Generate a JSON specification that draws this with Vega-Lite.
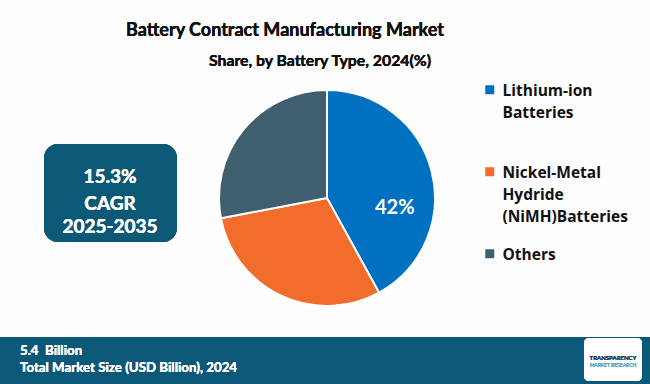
{
  "$schema": "https://vega.github.io/schema/vega-lite/v6.json",
  "width": 650,
  "height": 384,
  "padding": 0,
  "autosize": "none",
  "background": "#FDFDFD",
  "config": {
    "view": {"stroke": null},
    "style": {"guide-label": {"lineHeight": 22, "dy": -6}}
  },
  "data": {
    "values": [
      {"type": "Lithium-ion Batteries", "value": 42, "order": 1, "label": "42%"},
      {"type": "Nickel-Metal Hydride (NiMH)Batteries", "value": 30, "order": 2, "label": ""},
      {"type": "Others", "value": 28, "order": 3, "label": ""}
    ]
  },
  "layer": [
    {
      "mark": {"type": "arc", "x": 327, "y": 198, "radius": 108, "stroke": "white", "strokeWidth": 2},
      "encoding": {
        "theta": {"field": "value", "type": "quantitative", "stack": true},
        "order": {"field": "order", "type": "quantitative"},
        "color": {
          "field": "type",
          "type": "nominal",
          "sort": ["Lithium-ion Batteries", "Nickel-Metal Hydride (NiMH)Batteries", "Others"],
          "scale": {
            "domain": ["Lithium-ion Batteries", "Nickel-Metal Hydride (NiMH)Batteries", "Others"],
            "range": ["#0070C0", "#F26C2C", "#3F5F6F"]
          },
          "legend": {
            "orient": "none",
            "legendX": 482,
            "legendY": 82,
            "title": null,
            "padding": 0,
            "symbolType": "square",
            "symbolSize": 81,
            "symbolStrokeWidth": 0,
            "labelFont": "Open Sans",
            "labelFontSize": 15.5,
            "labelFontWeight": "bold",
            "labelColor": "#111111",
            "labelLimit": 200,
            "labelOffset": 5,
            "labelBaseline": "top",
            "rowPadding": 20,
            "labelExpr": "datum.label == 'Lithium-ion Batteries' ? ['Lithium-ion', 'Batteries', ''] : datum.label == 'Others' ? 'Others' : ['Nickel-Metal', 'Hydride', '(NiMH)Batteries']"
          }
        }
      }
    },
    {
      "mark": {"type": "text", "x": 327, "y": 198, "radius": 70, "dy": 27, "font": "Lato", "fontSize": 20, "fontWeight": "bold", "color": "white"},
      "encoding": {
        "theta": {"field": "value", "type": "quantitative", "stack": true},
        "order": {"field": "order", "type": "quantitative"},
        "text": {"field": "label"}
      }
    },
    {
      "mark": {"type": "text", "x": 285, "y": 31, "text": "Battery Contract Manufacturing Market", "font": "Lato", "fontSize": 18, "fontWeight": "bold", "color": "#111111", "align": "center", "baseline": "middle"},
      "encoding": {}
    },
    {
      "mark": {"type": "text", "x": 320, "y": 61, "text": "Share, by Battery Type, 2024(%)", "font": "Lato", "fontSize": 15.8, "fontWeight": "bold", "color": "#111111", "align": "center", "baseline": "middle"},
      "encoding": {}
    },
    {
      "mark": {"type": "rect", "x": 44, "x2": 177, "y": 144, "y2": 242, "cornerRadius": 14, "color": "#0C5877"},
      "encoding": {}
    },
    {
      "mark": {"type": "text", "x": 110, "y": 177, "text": "15.3%", "font": "Lato", "fontSize": 19, "fontWeight": "bold", "color": "white", "align": "center", "baseline": "middle"},
      "encoding": {}
    },
    {
      "mark": {"type": "text", "x": 110, "y": 204, "text": "CAGR", "font": "Lato", "fontSize": 19, "fontWeight": "bold", "color": "white", "align": "center", "baseline": "middle"},
      "encoding": {}
    },
    {
      "mark": {"type": "text", "x": 110, "y": 227, "text": "2025-2035", "font": "Lato", "fontSize": 19, "fontWeight": "bold", "color": "white", "align": "center", "baseline": "middle"},
      "encoding": {}
    },
    {
      "mark": {"type": "rect", "x": 0, "x2": 650, "y": 337, "y2": 384, "color": "#0B5878"},
      "encoding": {}
    },
    {
      "mark": {"type": "text", "x": 20, "y": 351, "text": "5.4\u00a0\u00a0Billion", "font": "Lato", "fontSize": 13.3, "fontWeight": "bold", "color": "white", "align": "left", "baseline": "middle"},
      "encoding": {}
    },
    {
      "mark": {"type": "text", "x": 20, "y": 368, "text": "Total Market Size (USD Billion), 2024", "font": "Lato", "fontSize": 13.3, "fontWeight": "bold", "color": "white", "align": "left", "baseline": "middle"},
      "encoding": {}
    },
    {
      "mark": {"type": "rect", "x": 584, "x2": 642, "y": 338, "y2": 381, "cornerRadius": 5, "color": "white"},
      "encoding": {}
    },
    {
      "mark": {"type": "text", "x": 613, "y": 358, "text": "TRANSPARENCY", "font": "Lato", "fontSize": 6, "fontWeight": "bold", "color": "#1F3F66", "align": "center", "baseline": "middle"},
      "encoding": {}
    },
    {
      "mark": {"type": "text", "x": 613, "y": 365, "text": "MARKET RESEARCH", "font": "Lato", "fontSize": 5, "color": "#4FA7B8", "align": "center", "baseline": "middle"},
      "encoding": {}
    }
  ]
}
